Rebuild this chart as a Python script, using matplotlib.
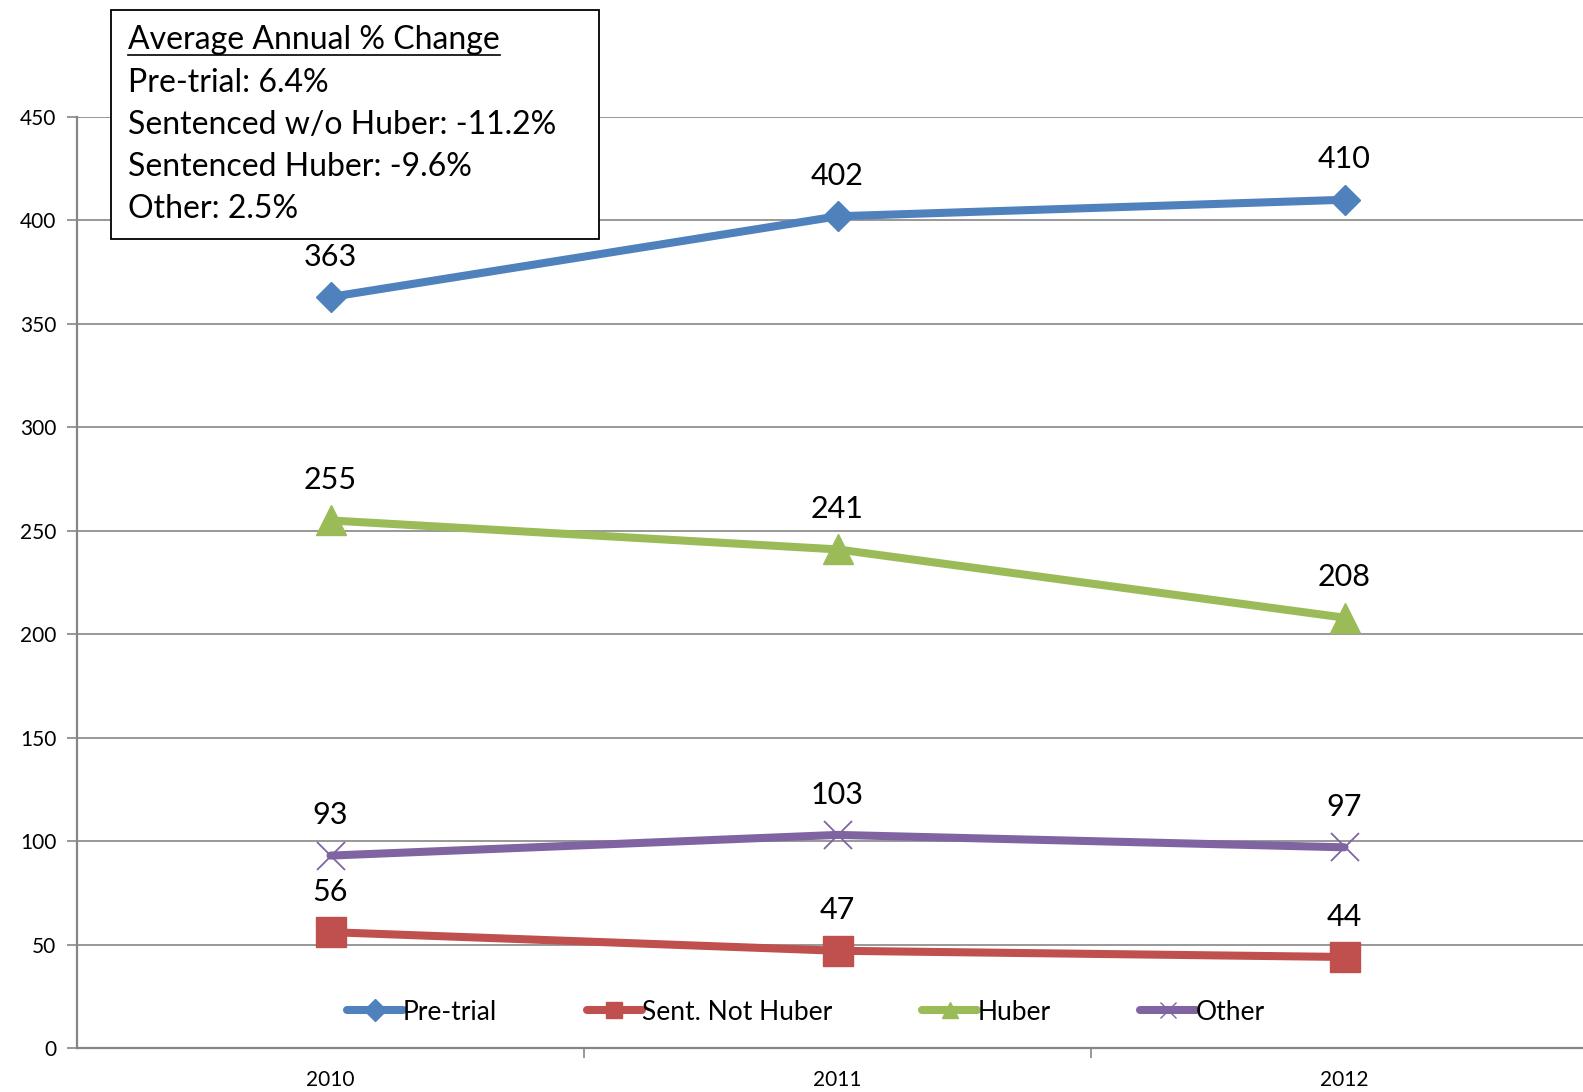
import matplotlib.pyplot as plt
from matplotlib.lines import Line2D

plt.rcParams['font.family'] = ['Lato', 'DejaVu Sans']

years = ['2010', '2011', '2012']
pretrial = [363, 402, 410]
sent_not_huber = [56, 47, 44]
huber = [255, 241, 208]
other = [93, 103, 97]

series = [
    ('Pre-trial', pretrial, '#4F81BD', 'D', 15),
    ('Sent. Not Huber', sent_not_huber, '#C0504D', 's', 21),
    ('Huber', huber, '#9BBB59', '^', 21),
    ('Other', other, '#8064A2', 'x', 20),
]

box_lines = [
    'Pre-trial: 6.4%',
    'Sentenced w/o Huber: -11.2%',
    'Sentenced Huber: -9.6%',
    'Other: 2.5%',
]

fig = plt.figure(figsize=(15.83, 10.92), dpi=100)
# axes runs off the right edge of the canvas
ax = fig.add_axes([77 / 1583, 1 - 1048 / 1092, 1521 / 1583, 931 / 1092])

x = list(range(len(years)))
handles = []
for name, vals, color, marker, ms in series:
    if marker == 'x':
        ax.plot(x, vals, color=color, lw=5.8, solid_capstyle='round', zorder=3)
        ax.plot(x, vals, ls='none', marker='x', ms=ms, mew=1.3, color=color, zorder=4)
        h = Line2D([], [], color=color, lw=5.8, marker='x', ms=12, mew=1.0,
                   solid_capstyle='round')
    else:
        ax.plot(x, vals, color=color, lw=5.8, marker=marker, ms=ms, zorder=3)
        h = Line2D([], [], color=color, lw=5.8, marker=marker, ms=11,
                   solid_capstyle='round')
    handles.append(h)
    for xi, v in zip(x, vals):
        ax.annotate(str(v), (xi, v), xytext=(0, 19), textcoords='offset points',
                    ha='center', va='bottom', fontsize=22, color='black')

ax.set_xlim(-0.5, 2.5)
ax.set_ylim(0, 450)
ax.set_yticks(range(0, 451, 50))
ax.set_xticks(x)
ax.set_xticklabels(years)
ax.set_xticks([0.5, 1.5], minor=True)
ax.tick_params(axis='x', which='major', length=0, labelsize=15, pad=16)
ax.tick_params(axis='x', which='minor', length=7, width=1.2, color='#868686',
               direction='out')
ax.tick_params(axis='y', length=7, width=1.2, color='#868686', labelsize=15, pad=8)
ax.grid(axis='y', color='#868686', lw=1.2)
ax.set_axisbelow(True)
for side in ['top', 'right']:
    ax.spines[side].set_visible(False)
for side in ['left', 'bottom']:
    ax.spines[side].set_color('#868686')
    ax.spines[side].set_linewidth(1.6)

ax.legend(handles, [s[0] for s in series], ncol=4, frameon=False,
          loc='center', bbox_to_anchor=((806 - 77) / 1521, (1048 - 1012) / 931),
          fontsize=19, handlelength=2.1, handletextpad=0.0, columnspacing=3.4)

# summary box in the upper left
fig.patches.append(plt.Rectangle((111 / 1583, 1 - 239 / 1092), 488 / 1583, 229 / 1092,
                                 transform=fig.transFigure, fill=True, fc='white',
                                 ec='black', lw=1.3, zorder=5))
title = fig.text(128 / 1583, 1 - 40 / 1092, 'Average Annual % Change', fontsize=23,
                 va='center', ha='left', zorder=6)
fig.canvas.draw()
bb = title.get_window_extent().transformed(fig.transFigure.inverted())
fig.add_artist(Line2D([bb.x0, bb.x1], [1 - 55 / 1092, 1 - 55 / 1092],
                      color='black', lw=1.2, transform=fig.transFigure, zorder=6))
for i, line in enumerate(box_lines):
    fig.text(128 / 1583, 1 - (83 + 42 * i) / 1092, line, fontsize=23,
             va='center', ha='left', zorder=6)

fig.savefig('out.png', dpi=100)
